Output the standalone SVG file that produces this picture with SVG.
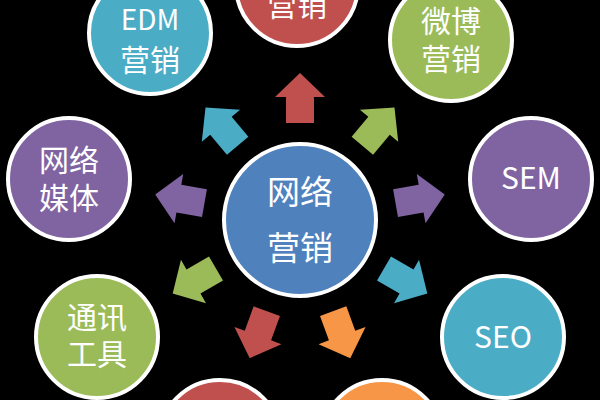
<svg xmlns="http://www.w3.org/2000/svg" xmlns:xlink="http://www.w3.org/1999/xlink" width="600" height="400" viewBox="0 0 600 400">
<style>
.node circle{stroke:#fff;stroke-width:4}
.t{font-family:"Noto Sans CJK SC","Noto Sans",sans-serif;fill:#fff;text-anchor:middle;font-size:30px}
.tc{font-size:33px}
.red{fill:#C0504D}.green{fill:#9BBB59}.purple{fill:#8064A2}.teal{fill:#4BACC6}.orange{fill:#F79646}.blue{fill:#4F81BD}
</style>
<defs>
<path id="arw" d="M97,-14 L123,-14 L123,-25 L147,0 L123,25 L123,14 L97,14 Z"/>
</defs>
<rect width="600" height="400" fill="#000"/>
<g id="connectors">
<use xlink:href="#arw" class="red" transform="translate(300,220) rotate(-90)"/>
<use xlink:href="#arw" class="green" transform="translate(300,220) rotate(-50)"/>
<use xlink:href="#arw" class="purple" transform="translate(300,220) rotate(-10)"/>
<use xlink:href="#arw" class="teal" transform="translate(300,220) rotate(30)"/>
<use xlink:href="#arw" class="orange" transform="translate(300,220) rotate(70)"/>
<use xlink:href="#arw" class="red" transform="translate(300,220) rotate(110)"/>
<use xlink:href="#arw" class="green" transform="translate(300,220) rotate(150)"/>
<use xlink:href="#arw" class="purple" transform="translate(300,220) rotate(190)"/>
<use xlink:href="#arw" class="teal" transform="translate(300,220) rotate(230)"/>
</g>
<g id="center" class="node">
<circle cx="300" cy="220" r="76" class="blue"/>
<text class="t tc" x="300" y="204">网络</text>
<text class="t tc" x="300" y="260">营销</text>
</g>
<g id="top" class="node">
<circle cx="297" cy="-15" r="61" class="red"/>
<text class="t" x="297" y="16">营销</text>
</g>
<g id="edm" class="node">
<circle cx="150" cy="33" r="61" class="teal"/>
<text class="t" x="150" y="30" style="font-size:28px">EDM</text>
<text class="t" x="150" y="71">营销</text>
</g>
<g id="weibo" class="node">
<circle cx="451" cy="40" r="61" class="green"/>
<text class="t" x="451" y="32">微博</text>
<text class="t" x="451" y="70">营销</text>
</g>
<g id="sem" class="node">
<circle cx="531" cy="179" r="61" class="purple"/>
<text class="t" x="531" y="189">SEM</text>
</g>
<g id="seo" class="node">
<circle cx="503" cy="337" r="61" class="teal"/>
<text class="t" x="503" y="348">SEO</text>
</g>
<g id="bottom-orange" class="node">
<circle cx="382" cy="441" r="61" class="orange"/>
</g>
<g id="bottom-red" class="node">
<circle cx="220" cy="441" r="61" class="red"/>
</g>
<g id="tongxun" class="node">
<circle cx="97" cy="337" r="61" class="green"/>
<text class="t" x="97" y="328">通讯</text>
<text class="t" x="97" y="365">工具</text>
</g>
<g id="meiti" class="node">
<circle cx="69" cy="179" r="61" class="purple"/>
<text class="t" x="69" y="171">网络</text>
<text class="t" x="69" y="209">媒体</text>
</g>
</svg>
